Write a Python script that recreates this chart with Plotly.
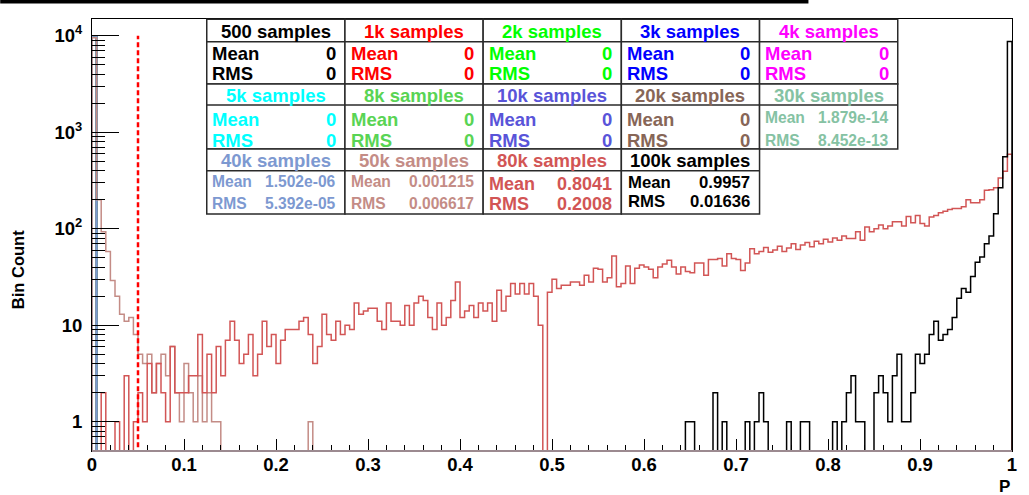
import numpy as np
import plotly.graph_objects as go

# ---------------------------------------------------------------- canvas
W, H = 1029, 495
ML, MR, MT, MB = 92, 15, 19, 44
PW, PH = W - ML - MR, H - MT - MB


def px(x):
    """pixel column -> paper x"""
    return (x - ML) / PW


def py(y):
    """pixel row (from top) -> paper y"""
    return (H - MB - y) / PH


# ---------------------------------------------------------------- data
N_BINS = 200
bin_edges = np.linspace(0.0, 1.0, N_BINS + 1)

sample_labels = ["500", "1k", "2k", "3k", "4k", "5k", "8k", "10k",
                 "20k", "30k", "40k", "50k", "80k", "100k"]
hist_colors = ["#000000", "#ff0000", "#00ff00", "#0000ff", "#ff00ff", "#00ffff",
               "#59d454", "#5954d9", "#876657", "#85c2a3", "#7d99d1", "#c48c86",
               "#d25555", "#000000"]
mean_text = ["0", "0", "0", "0", "0", "0", "0", "0", "0",
             "1.879e-14", "1.502e-06", "0.001215", "0.8041", "0.9957"]
rms_text = ["0", "0", "0", "0", "0", "0", "0", "0", "0",
            "8.452e-13", "5.392e-05", "0.006617", "0.2008", "0.01636"]

# 500 ... 40k samples: every entry falls in the first bin
first_bin_counts = [10000, 10000, 10000, 10000, 10000, 10000, 10000, 10000,
                    10000, 10000, 10000]

# 50k samples: non-empty bins {bin index: count}
counts_50k = {0: 9500, 1: 200, 2: 93, 3: 58, 4: 29, 5: 20, 6: 13, 7: 11, 8: 12,
              9: 8, 10: 5, 11: 4, 12: 5, 13: 2, 14: 4, 15: 5, 16: 3, 17: 6,
              18: 2, 19: 1, 20: 4, 21: 2, 22: 1, 23: 3, 24: 1, 25: 2, 26: 1,
              27: 1, 47: 1}

# 80k samples: all 200 bins
counts_80k = [
    0, 0, 2, 0, 0, 1, 0, 3, 0, 1, 2, 1, 4, 2, 4, 2, 1, 6, 2, 2, 2, 3, 3,
    8, 2, 5, 2, 6, 3, 7, 11, 7, 4, 5, 8, 3, 5, 11, 6, 8, 4, 7, 9, 9, 9,
    11, 12, 8, 4, 6, 13, 8, 7, 11, 8, 10, 9, 17, 13, 14, 15, 15, 11,
    9, 17, 11, 11, 10, 16, 10, 17, 20, 18, 12, 9, 17, 10, 12, 18, 28, 12,
    14, 16, 12, 17, 14, 17, 11, 23, 14, 20, 27, 21, 27, 21, 27, 20, 10, 0,
    22, 30, 24, 26, 26, 28, 28, 26, 33, 28, 39,
    38, 28, 31, 52, 25, 27, 41, 27, 39, 42, 40, 38, 31, 40, 43, 47, 40, 34,
    40, 36, 35, 44, 44, 33, 48, 48, 49, 41, 55, 49, 48, 37, 44,
    62, 55, 58, 64, 57, 60, 66, 58, 63, 70, 61, 68, 72, 65, 74, 70, 78, 73,
    80, 76, 84,
    79, 79, 93, 76, 104, 93, 100, 109, 100, 107, 118, 118, 107, 134, 115, 137,
    113, 107, 132, 137, 146, 152, 158, 162, 162, 169, 200, 186, 186, 200,
    250, 254, 266, 336, 393, 590,
]

# 100k samples: non-empty bins {bin index: count}
counts_100k = {129: 1, 130: 1, 135: 2, 137: 1, 142: 1, 144: 1, 145: 2, 146: 1,
               151: 1, 154: 1, 155: 1, 161: 1, 163: 1, 164: 2, 165: 3, 166: 1,
               167: 1, 170: 2, 171: 3, 172: 2, 173: 1, 174: 3, 175: 5, 176: 1,
               177: 1, 178: 2, 179: 5, 180: 4, 181: 5, 182: 8, 183: 11, 184: 7,
               185: 8, 186: 9, 187: 12, 188: 19, 189: 24, 190: 22, 191: 32,
               192: 45, 193: 51, 194: 70, 195: 84, 196: 143, 197: 266,
               198: 557, 199: 8700}

cut_value = 0.05

# ---------------------------------------------------------------- helpers
Y_LOG_RANGE = [-0.3036, 4.1733]
FLOOR = 1e-3  # empty bins are sent below the visible range


def dense(mapping):
    arr = np.zeros(N_BINS)
    for k, v in mapping.items():
        arr[k] = v
    return arr


def outline(counts):
    c = np.where(np.asarray(counts, dtype=float) > 0, counts, FLOOR)
    xs = np.concatenate([[bin_edges[0]], bin_edges[:-1], [bin_edges[-1], bin_edges[-1]]])
    ys = np.concatenate([[FLOOR], c, [c[-1], FLOOR]])
    return xs, ys


all_counts = []
for n in first_bin_counts:
    arr = np.zeros(N_BINS)
    arr[0] = n
    all_counts.append(arr)
all_counts.append(dense(counts_50k))
all_counts.append(np.array(counts_80k, dtype=float))
all_counts.append(dense(counts_100k))

# ---------------------------------------------------------------- figure
fig = go.Figure()
for lab, col, cnt in zip(sample_labels, hist_colors, all_counts):
    xs, ys = outline(cnt)
    fig.add_trace(go.Scatter(x=xs, y=ys, mode="lines", line_shape="hv",
                             line=dict(color=col, width=1.5),
                             name=lab + " samples", hoverinfo="skip"))

fig.add_trace(go.Scatter(x=[cut_value, cut_value], y=[FLOOR, 1e4], mode="lines",
                         line=dict(color="#ff0000", width=2.5, dash="5px,3px"),
                         hoverinfo="skip", showlegend=False))

FONT = "Liberation Sans, Arial, Helvetica, sans-serif"

minor_y = [0.6, 0.7, 0.8, 0.9] + [k * 10 ** d for d in range(4) for k in range(2, 10)]

fig.update_layout(
    width=W, height=H,
    margin=dict(l=ML, r=MR, t=MT, b=MB, pad=0),
    paper_bgcolor="white", plot_bgcolor="white",
    showlegend=False,
    font=dict(family=FONT, color="black"),
    xaxis=dict(range=[0, 1], tickmode="linear", tick0=0, dtick=0.1,
               ticks="inside", ticklen=12, tickwidth=1, tickcolor="black",
               minor=dict(dtick=0.02, tick0=0, ticks="inside", ticklen=6,
                          tickwidth=1, tickcolor="black"),
               showgrid=False, zeroline=False,
               showline=True, linecolor="black", linewidth=1, mirror=True,
               tickfont=dict(size=18.5, family=FONT, weight="bold"),
               ticklabelstandoff=-3),
    yaxis=dict(type="log", range=Y_LOG_RANGE,
               tickmode="array", tickvals=[1, 10, 100, 1000, 10000],
               ticktext=["1", "10", "10<sup>2</sup>", "10<sup>3</sup>", "10<sup>4</sup>"],
               ticks="inside", ticklen=27, tickwidth=1, tickcolor="black",
               minor=dict(tickmode="array", tickvals=minor_y, ticks="inside",
                          ticklen=13, tickwidth=1, tickcolor="black"),
               showgrid=False, zeroline=False,
               showline=True, linecolor="black", linewidth=1, mirror=True,
               tickfont=dict(size=18.5, family=FONT, weight="bold"),
               ticklabelstandoff=5),
)

shapes = []
annotations = []

# band along the top edge
shapes.append(dict(type="rect", xref="paper", yref="paper",
                   x0=px(0), x1=px(810), y0=py(0), y1=py(3.5),
                   fillcolor="black", line=dict(width=0), layer="above"))

# baseline where the empty bins of the histograms overlap
shapes.append(dict(type="line", xref="paper", yref="paper",
                   x0=0, x1=1, y0=0, y1=0,
                   line=dict(color="#9c8a90", width=2), layer="above"))

# statistics table
col_x = [207, 345.5, 484, 622.5, 761, 899.5]
row_y = [(19.3, 41.7, 84.0), (84.0, 105.0, 149.0), (149.0, 170.7, 214.0)]
layout_cells = [(0, 0), (0, 1), (0, 2), (0, 3), (0, 4),
                (1, 0), (1, 1), (1, 2), (1, 3), (1, 4),
                (2, 0), (2, 1), (2, 2), (2, 3)]
stat_size = [18.5] * 9 + [15.6, 15.6, 15.6, 18.0, 16.7]
stat_rows = {0: (53.5, 74.0), 1: (119.0, 140.0), 2: (181.0, 203.5)}
stat_rows_big = {12: (183.5, 204.0), 13: (182.5, 201.5), 9: (117.5, 140.0)}

BORDER = "#2a2a2a"


def txt(x, y, s, color, size, xanchor):
    annotations.append(dict(xref="paper", yref="paper", x=px(x), y=py(y),
                            text=s, showarrow=False, xanchor=xanchor,
                            yanchor="middle", borderpad=0, borderwidth=0,
                            font=dict(family=FONT, size=size, color=color,
                                      weight="bold")))


for i, (r, c) in enumerate(layout_cells):
    x0, x1 = col_x[c], col_x[c + 1]
    top, mid, bot = row_y[r]
    shapes.append(dict(type="rect", xref="paper", yref="paper",
                       x0=px(x0), x1=px(x1), y0=py(bot), y1=py(top),
                       fillcolor="white", line=dict(color=BORDER, width=1.5),
                       layer="above"))
    shapes.append(dict(type="line", xref="paper", yref="paper",
                       x0=px(x0), x1=px(x1), y0=py(mid), y1=py(mid),
                       line=dict(color=BORDER, width=1.5), layer="above"))
    col = hist_colors[i]
    txt((x0 + x1) / 2, (top + mid) / 2 + 0.5, sample_labels[i] + " samples",
        col, 18.5, "center")
    ym, yr = stat_rows_big.get(i, stat_rows[r])
    lpad = 6.8 if i == 13 else 5.7
    rpad = 9.2
    size = stat_size[i]
    txt(x0 + lpad, ym, "Mean", col, size, "left")
    txt(x0 + lpad, yr, "RMS", col, size, "left")
    txt(x1 - rpad, ym, mean_text[i], col, size, "right")
    txt(x1 - rpad, yr, rms_text[i], col, size, "right")

# axis titles
annotations.append(dict(xref="paper", yref="paper", x=px(18), y=py(270),
                        text="Bin Count", textangle=-90, showarrow=False,
                        xanchor="center", yanchor="middle",
                        font=dict(family=FONT, size=16.5, color="black",
                                  weight="bold")))
annotations.append(dict(xref="paper", yref="paper", x=px(1006), y=py(486),
                        text="P", showarrow=False,
                        xanchor="center", yanchor="middle",
                        font=dict(family=FONT, size=17, color="black",
                                  weight="bold")))

fig.update_layout(shapes=shapes, annotations=annotations)
fig.write_html("out.html")
